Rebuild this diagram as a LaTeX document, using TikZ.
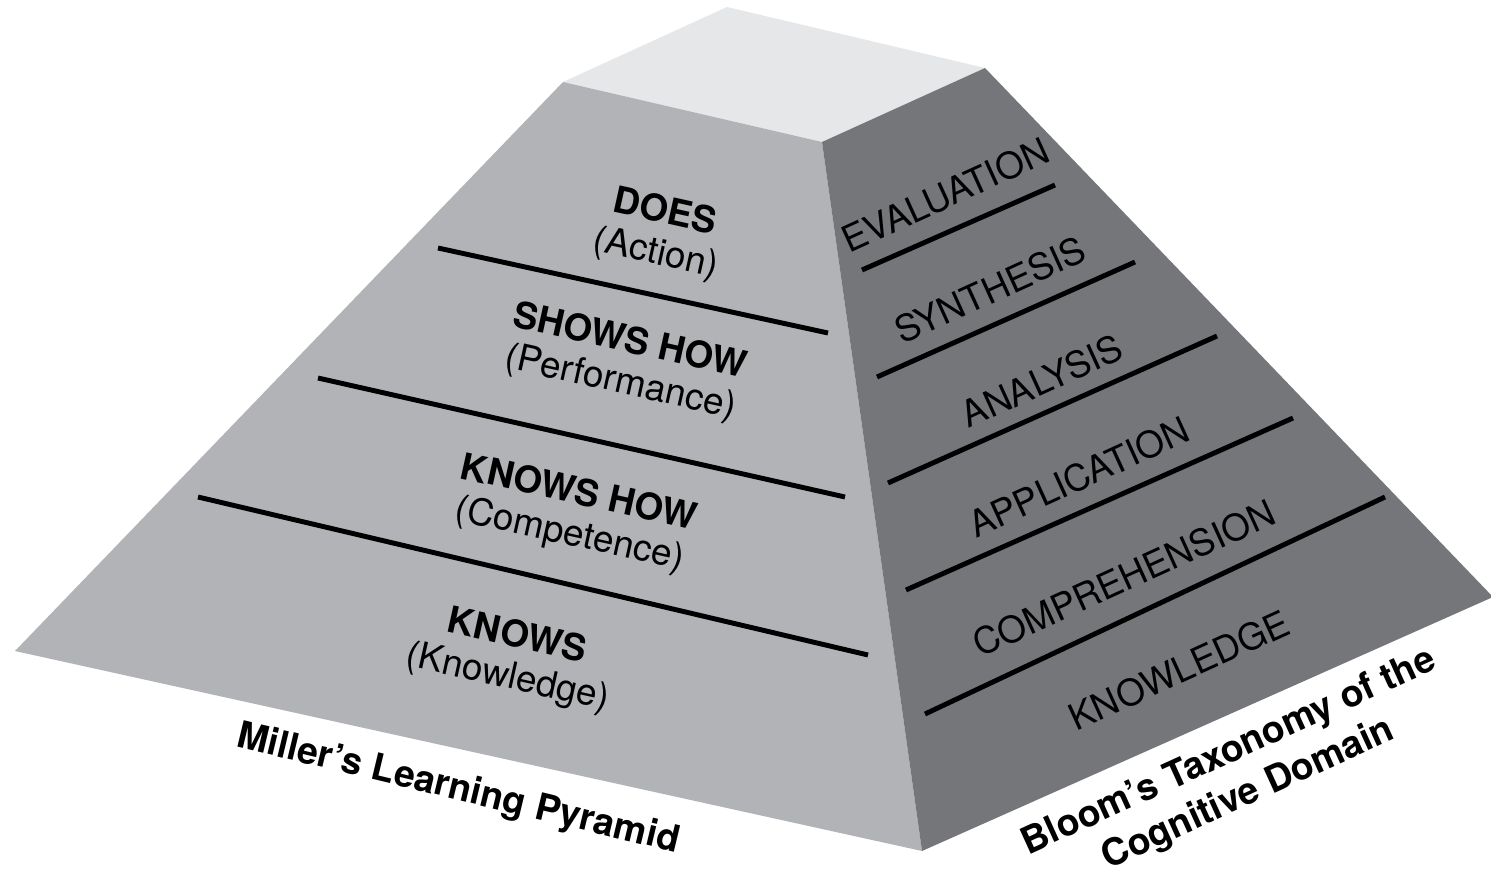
\documentclass[tikz,border=0pt]{standalone}
\usepackage{fontspec}
\setmainfont{TeX Gyre Heros}
\definecolor{topface}{HTML}{E6E7E8}
\definecolor{leftface}{HTML}{B2B3B6}
\definecolor{rightface}{HTML}{75767A}
\begin{document}
\begin{tikzpicture}[x=0.01cm, y=-0.01cm,
  millerlbl/.style={align=center, rotate=-12.5, inner sep=0pt, font=\fontsize{10.5}{11.8}\selectfont},
  bloomlbl/.style={rotate=24.5, inner sep=0pt, font=\fontsize{10.4}{12}\selectfont},
  divider/.style={line width=1.4pt},
  caption/.style={align=center, inner sep=0pt, font=\fontsize{10.6}{13.1}\selectfont\bfseries}]

\fill[white] (0,0) rectangle (1491,885);
\useasboundingbox (0,0) rectangle (1491,885);

% corners of the frustum
\coordinate (topback) at (727,7);
\coordinate (topleft) at (563,82);
\coordinate (topfront) at (822,142);
\coordinate (topright) at (985,68);
\coordinate (baseleft) at (15,651);
\coordinate (basefront) at (922,851);
\coordinate (baseright) at (1493,597);

\fill[topface] (topleft) -- (topback) -- (topright) -- (topfront) -- cycle;
\fill[leftface] (topleft) -- (topfront) -- (basefront) -- (baseleft) -- cycle;
\fill[rightface] (topfront) -- (topright) -- (baseright) -- (basefront) -- cycle;

% Miller levels
\draw[divider] (438,248) -- (828,333);
\draw[divider] (318,378) -- (845,497);
\draw[divider] (198,497) -- (868,655);

\node[millerlbl] (does) at (660,234) {\textbf{DOES}\\(Action)};
\node[millerlbl] (showshow) at (625,363) {\textbf{SHOWS HOW}\\(Performance)};
\node[millerlbl] (knowshow) at (574,515) {\textbf{KNOWS HOW}\\(Competence)};
\node[millerlbl] (knows) at (512,658) {\textbf{KNOWS}\\(Knowledge)};

% Bloom levels
\draw[divider] (862,270) -- (1055,185);
\draw[divider] (877,377) -- (1135,262);
\draw[divider] (888,483) -- (1217,336);
\draw[divider] (906,590) -- (1293,418);
\draw[divider] (925,714) -- (1385,497);

\node[bloomlbl] (evaluation) at (945,195) {EVALUATION};
\node[bloomlbl] (synthesis) at (990,290) {SYNTHESIS};
\node[bloomlbl] (analysis) at (1042,381) {ANALYSIS};
\node[bloomlbl] (application) at (1079,477) {APPLICATION};
\node[bloomlbl] (comprehension) at (1124,578) {COMPREHENSION};
\node[bloomlbl] (knowledge) at (1179,670) {KNOWLEDGE};

% captions
\node[caption, rotate=-13.5] (miller) at (458,790) {Miller's Learning Pyramid};
\node[caption, rotate=24.5] (bloom) at (1239,774) {Bloom's Taxonomy of the\\Cognitive Domain};
\end{tikzpicture}
\end{document}
